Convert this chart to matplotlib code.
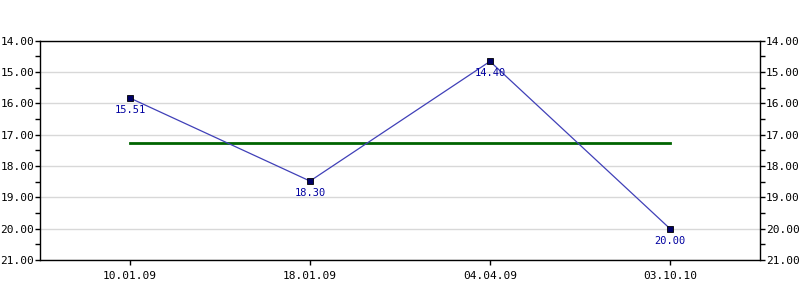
import matplotlib
matplotlib.use("Agg")
import matplotlib.pyplot as plt
from matplotlib.ticker import MultipleLocator, FormatStrFormatter

categories = ["10.01.09", "18.01.09", "04.04.09", "03.10.10"]
values = [15.83, 18.48, 14.66, 20.00]
point_labels = ["15.51", "18.30", "14.40", "20.00"]
average_value = 17.25

fig = plt.figure(figsize=(8, 3), dpi=100)
ax = fig.add_axes([0.05, 0.1333, 0.90, 0.7310])
x = list(range(len(categories)))

ax.plot(x, values, color="#4040b8", lw=0.9, zorder=3)
ax.plot(x, values, ls="none", marker="s", ms=4.5, mfc="#000066", mec="#000000", mew=0.6, zorder=4)
ax.plot([x[0], x[-1]], [average_value, average_value], color="#006400", lw=2, zorder=2)

for xi, v, lab in zip(x, values, point_labels):
    ax.annotate(lab, (xi, v), xytext=(0, -5), textcoords="offset points",
                ha="center", va="top", color="#0000a0", fontsize=7.5,
                family="DejaVu Sans Mono", zorder=5)

ax.set_xlim(-0.5, len(categories) - 0.5)
ax.set_ylim(21, 14)
ax.set_xticks(x)
ax.set_xticklabels(categories)
ax.yaxis.set_major_locator(MultipleLocator(1))
ax.yaxis.set_minor_locator(MultipleLocator(0.5))
ax.yaxis.set_major_formatter(FormatStrFormatter("%.2f"))
ax.grid(axis="y", which="major", color="#d8d8d8", lw=1, zorder=0)
ax.tick_params(axis="both", which="both", direction="out", length=3.6, width=1,
               labelsize=8, right=True, labelright=True, pad=0.5)
ax.tick_params(axis="x", pad=4.5)
for t in ax.yaxis.get_major_ticks():
    t.label1.set_family("DejaVu Sans Mono")
    t.label2.set_family("DejaVu Sans Mono")
for t in ax.xaxis.get_major_ticks():
    t.label1.set_family("DejaVu Sans Mono")
for s in ax.spines.values():
    s.set_linewidth(1)

fig.savefig("out.png", dpi=100)
